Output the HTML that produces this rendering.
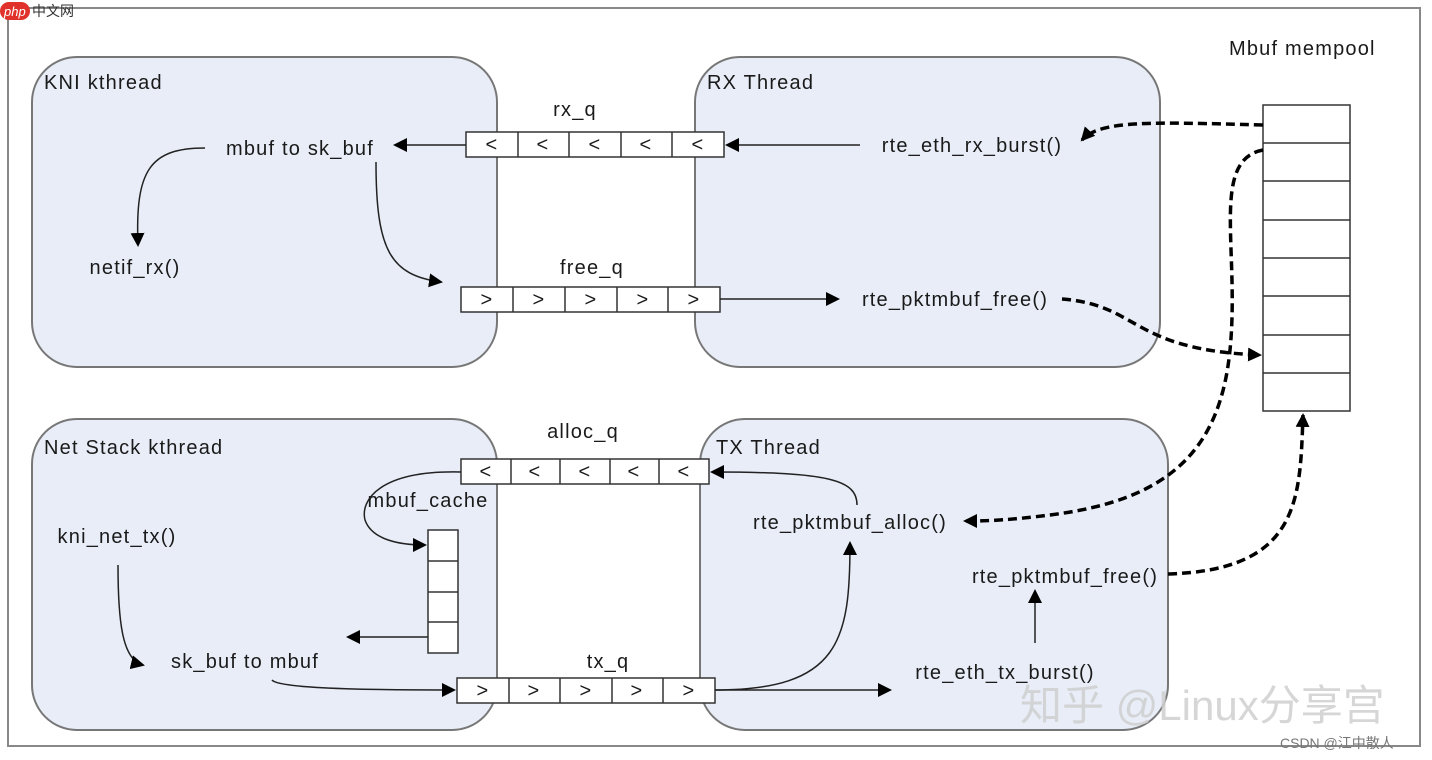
<!DOCTYPE html>
<html><head><meta charset="utf-8"><style>
body{margin:0;background:#fff;width:1432px;height:760px;overflow:hidden}
svg{display:block}
text{font-family:"Liberation Sans","Noto Sans CJK SC",sans-serif;font-size:20px;letter-spacing:1.2px;fill:#1a1a1a}
</style></head><body>
<svg width="1432" height="760" viewBox="0 0 1432 760">
<defs>
<marker id="b" markerWidth="14" markerHeight="14" refX="12" refY="7" orient="auto" markerUnits="userSpaceOnUse"><path d="M0,0 L14,7 L0,14 z" fill="#000"/></marker>
</defs>
<rect x="8" y="8" width="1412" height="738" fill="#fff" stroke="#888" stroke-width="2"/>
<g fill="#e8edf7" stroke="#777" stroke-width="2">
<rect x="32" y="57" width="465" height="310" rx="45"/>
<rect x="695" y="57" width="465" height="310" rx="45"/>
<rect x="32" y="419" width="465" height="311" rx="45"/>
<rect x="700" y="419" width="468" height="311" rx="45"/>
</g>
<text x="44" y="89">KNI kthread</text>
<text x="707" y="89">RX Thread</text>
<text x="44" y="454">Net Stack kthread</text>
<text x="716" y="454">TX Thread</text>
<text x="1229" y="55">Mbuf mempool</text>
<text x="575" y="116" text-anchor="middle">rx_q</text>
<text x="592" y="274" text-anchor="middle">free_q</text>
<text x="583" y="438" text-anchor="middle">alloc_q</text>
<text x="608" y="668" text-anchor="middle">tx_q</text>
<g stroke="#333" stroke-width="1.5" fill="#fff">
<rect x="466" y="132" width="258" height="25"/><path d="M518 132v25M569 132v25M621 132v25M672 132v25"/>
<rect x="461" y="287" width="259" height="25"/><path d="M513 287v25M565 287v25M617 287v25M668 287v25"/>
<rect x="461" y="459" width="248" height="25"/><path d="M511 459v25M560 459v25M610 459v25M659 459v25"/>
<rect x="457" y="678" width="258" height="25"/><path d="M509 678v25M560 678v25M612 678v25M663 678v25"/>
<rect x="1263" y="105" width="87" height="306"/><path d="M1263 143h87M1263 181h87M1263 220h87M1263 258h87M1263 296h87M1263 335h87M1263 373h87"/>
<rect x="428" y="530" width="30" height="123"/><path d="M428 561h30M428 592h30M428 622h30"/>
</g>
<g text-anchor="middle">
<text x="492" y="151">&lt;</text><text x="543" y="151">&lt;</text><text x="595" y="151">&lt;</text><text x="646" y="151">&lt;</text><text x="698" y="151">&lt;</text>
<text x="487" y="306">&gt;</text><text x="539" y="306">&gt;</text><text x="591" y="306">&gt;</text><text x="643" y="306">&gt;</text><text x="694" y="306">&gt;</text>
<text x="486" y="478">&lt;</text><text x="535" y="478">&lt;</text><text x="585" y="478">&lt;</text><text x="634" y="478">&lt;</text><text x="684" y="478">&lt;</text>
<text x="483" y="697">&gt;</text><text x="534" y="697">&gt;</text><text x="586" y="697">&gt;</text><text x="637" y="697">&gt;</text><text x="689" y="697">&gt;</text>
</g>
<text x="300" y="155" text-anchor="middle">mbuf to sk_buf</text>
<text x="135" y="274" text-anchor="middle">netif_rx()</text>
<text x="972" y="152" text-anchor="middle">rte_eth_rx_burst()</text>
<text x="955" y="306" text-anchor="middle">rte_pktmbuf_free()</text>
<text x="117" y="543" text-anchor="middle">kni_net_tx()</text>
<text x="245" y="668" text-anchor="middle">sk_buf to mbuf</text>
<text x="428" y="507" text-anchor="middle">mbuf_cache</text>
<text x="850" y="529" text-anchor="middle">rte_pktmbuf_alloc()</text>
<text x="1065" y="583" text-anchor="middle">rte_pktmbuf_free()</text>
<text x="1005" y="679" text-anchor="middle">rte_eth_tx_burst()</text>
<g stroke="#222" stroke-width="1.5" fill="none">
<path d="M466 145H395" marker-end="url(#b)"/>
<path d="M860 145H727" marker-end="url(#b)"/>
<path d="M205 148C150 148 135 170 138 245" marker-end="url(#b)"/>
<path d="M376 162C376 250 390 275 441 282" marker-end="url(#b)"/>
<path d="M720 299H838" marker-end="url(#b)"/>
<path d="M461 472C380 470 360 500 365 520C372 540 400 545 425 545" marker-end="url(#b)"/>
<path d="M428 637H348" marker-end="url(#b)"/>
<path d="M857 505C857 480 830 472 712 472" marker-end="url(#b)"/>
<path d="M118 565C118 620 122 660 143 665" marker-end="url(#b)"/>
<path d="M272 680C280 690 400 690 454 690" marker-end="url(#b)"/>
<path d="M715 690C840 690 850 640 850 543" marker-end="url(#b)"/>
<path d="M715 690H890" marker-end="url(#b)"/>
<path d="M1035 643V591" marker-end="url(#b)"/>
</g>
<g stroke="#000" stroke-width="3.5" fill="none" stroke-dasharray="9,5">
<path d="M1263 125C1150 122 1100 120 1082 140" marker-end="url(#b)"/>
<path d="M1263 150C1210 160 1240 250 1230 350C1220 450 1170 500 1050 515C1010 520 990 521 965 521" marker-end="url(#b)"/>
<path d="M1062 299C1140 305 1130 350 1260 355" marker-end="url(#b)"/>
<path d="M1168 574C1300 570 1300 500 1303 415" marker-end="url(#b)"/>
</g>
<text x="1020" y="720" style="font-size:42px;letter-spacing:0;fill:#cfcfcf;opacity:.85">知乎 @Linux分享宫</text>
<text x="1280" y="748" style="font-size:14px;letter-spacing:0;fill:#777">CSDN @江中散人</text>
<g><rect x="0" y="2" width="30" height="18" rx="9" fill="#e0322b"/><text x="4" y="16" style="font-size:13px;letter-spacing:0;fill:#fff;font-style:italic">php</text><text x="32" y="16" style="font-size:14px;letter-spacing:0;fill:#333">中文网</text></g>
</svg>
</body></html>
